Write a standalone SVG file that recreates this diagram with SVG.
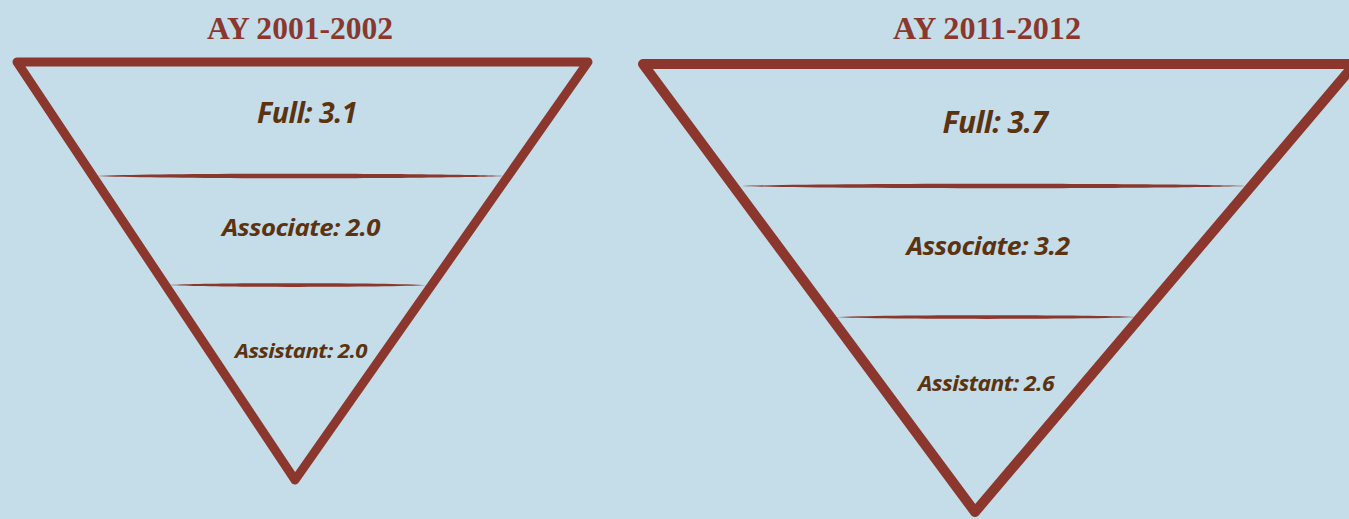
<svg xmlns="http://www.w3.org/2000/svg" width="1349" height="519" viewBox="0 0 1349 519">
<style>
.title{font-family:"Liberation Serif",serif;font-weight:bold;fill:#8B372E;font-size:31px;text-anchor:middle}
.lbl{font-family:"Open Sans","Noto Sans",sans-serif;font-weight:bold;font-style:italic;fill:#5C3310;text-anchor:middle;letter-spacing:-0.5px}
.tri{fill:none;stroke:#8B372E;stroke-linejoin:round;stroke-linecap:round}
.sep{fill:#8B372E}
</style>
<rect width="1349" height="519" fill="#C4DDE9"/>
<g id="left-funnel">
<text class="title" x="300" y="39" textLength="186" lengthAdjust="spacingAndGlyphs">AY 2001-2002</text>
<polygon class="tri" stroke-width="9" points="17,62 588,62 295,480"/>
<path class="sep" d="M97,176 C160,173 440,173 503,176 C440,179 160,179 97,176 Z"/>
<path class="sep" d="M170,285 C210,282.5 387,282.5 427,285 C387,287.5 210,287.5 170,285 Z"/>
<text class="lbl" x="307" y="123" font-size="28" textLength="100" lengthAdjust="spacingAndGlyphs">Full: 3.1</text>
<text class="lbl" x="301" y="236" font-size="24" textLength="158" lengthAdjust="spacingAndGlyphs">Associate: 2.0</text>
<text class="lbl" x="301" y="358" font-size="19.5" textLength="132" lengthAdjust="spacingAndGlyphs">Assistant: 2.0</text>
</g>
<g id="right-funnel">
<text class="title" x="987" y="39" textLength="188" lengthAdjust="spacingAndGlyphs">AY 2011-2012</text>
<polygon class="tri" stroke-width="10" points="643,64 1355,64 975,512"/>
<path class="sep" d="M742,186 C820,183 1167,183 1245,186 C1167,189 820,189 742,186 Z"/>
<path class="sep" d="M835,317 C880,314.5 1093,314.5 1138,317 C1093,319.5 880,319.5 835,317 Z"/>
<text class="lbl" x="995" y="133" font-size="30" textLength="105" lengthAdjust="spacingAndGlyphs">Full: 3.7</text>
<text class="lbl" x="988" y="255" font-size="25" textLength="163" lengthAdjust="spacingAndGlyphs">Associate: 3.2</text>
<text class="lbl" x="986" y="391" font-size="20.5" textLength="136" lengthAdjust="spacingAndGlyphs">Assistant: 2.6</text>
</g>
</svg>
